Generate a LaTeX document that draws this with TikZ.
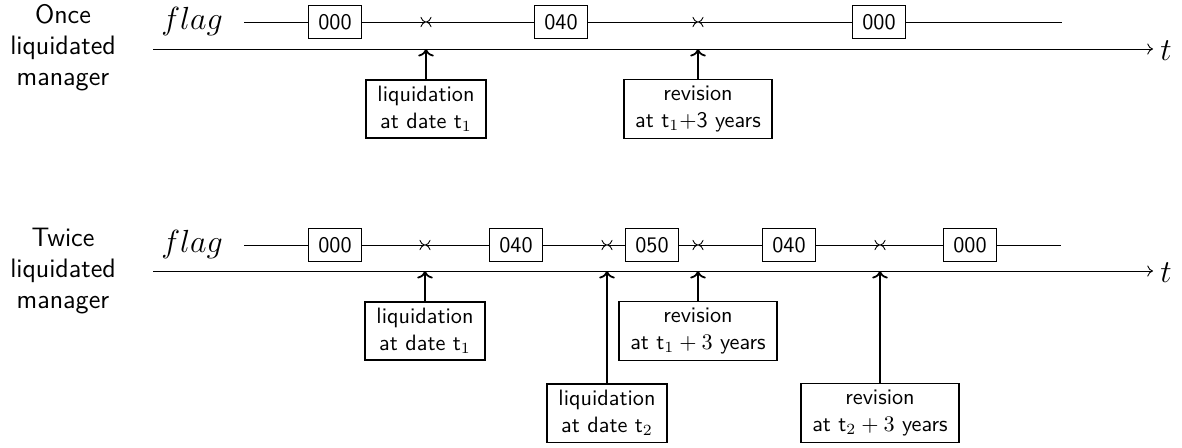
\documentclass[tikz,border=0pt]{standalone}
\usetikzlibrary{arrows.meta}
\begin{document}
\tikzset{
  numbox/.style={draw, font=\sffamily, minimum width=24pt, minimum height=15pt, inner sep=2pt},
  evbox/.style={draw, thick, font=\sffamily, align=center, inner xsep=5pt, inner ysep=3pt},
  evarrow/.style={thick, ->},
  tomark/.style={-{To[length=2.5pt,width=4.6pt]}},
  frommark/.style={{To[length=2.5pt,width=4.6pt]}-},
  axisline/.style={-{To[length=2.6pt,width=5pt]}},
  lbl/.style={font=\sffamily\large, align=center},
}
\begin{tikzpicture}[x=0.45pt,y=-0.45pt]
\useasboundingbox (0,0) rectangle (1182,447);
% ---------- row 1 ----------
\node[lbl] (L1) at (63,48) {Once\\liquidated\\manager};
\node (F1) at (192,21) {\Large $flag$};
\coordinate (s1) at (244,22);
\node[numbox] (a1) at (335,22) {000};
\coordinate (m11) at (426,22);
\node[numbox] (a2) at (561,22) {040};
\coordinate (m12) at (698,22);
\node[numbox] (a3) at (879,22) {000};
\coordinate (e1) at (1062,22);
\draw (s1) -- (a1);
\draw[tomark] (a1) -- (m11);
\draw[frommark] (m11) -- (a2);
\draw[tomark] (a2) -- (m12);
\draw[frommark] (m12) -- (a3);
\draw (a3) -- (e1);
\coordinate (ax1s) at (153,49);
\coordinate (ax1e) at (1153,49);
\node (T1) at (1166,51) {\Large $t$};
\draw[axisline] (ax1s) -- (ax1e);
\coordinate (p11) at (426,49);
\coordinate (p12) at (698,49);
\node[evbox] (b11) at (426,109) {liquidation\\at date t$_1$};
\node[evbox] (b12) at (698,109) {revision\\at t$_1$+3 years};
\draw[evarrow] (b11) -- (p11);
\draw[evarrow] (b12) -- (p12);
% ---------- row 2 ----------
\node[lbl] (L2) at (63,271) {Twice\\liquidated\\manager};
\node (F2) at (192,244) {\Large $flag$};
\coordinate (s2) at (244,245);
\node[numbox] (c1) at (335,245) {000};
\coordinate (m21) at (425,245);
\node[numbox] (c2) at (516,245) {040};
\coordinate (m22) at (607,245);
\node[numbox] (c3) at (652,245) {050};
\coordinate (m23) at (698,245);
\node[numbox] (c4) at (789,245) {040};
\coordinate (m24) at (880,245);
\node[numbox] (c5) at (970,245) {000};
\coordinate (e2) at (1061,245);
\draw (s2) -- (c1);
\draw[tomark] (c1) -- (m21);
\draw[frommark] (m21) -- (c2);
\draw[tomark] (c2) -- (m22);
\draw[frommark] (m22) -- (c3);
\draw[tomark] (c3) -- (m23);
\draw[frommark] (m23) -- (c4);
\draw[tomark] (c4) -- (m24);
\draw[frommark] (m24) -- (c5);
\draw (c5) -- (e2);
\coordinate (ax2s) at (153,271);
\coordinate (ax2e) at (1153,271);
\node (T2) at (1166,273) {\Large $t$};
\draw[axisline] (ax2s) -- (ax2e);
\coordinate (p21) at (425,271);
\coordinate (p22) at (607,271);
\coordinate (p23) at (698,271);
\coordinate (p24) at (880,271);
\node[evbox] (d1) at (425,331) {liquidation\\at date t$_1$};
\node[evbox] (d3) at (698,331) {revision\\at t$_1 + 3$ years};
\node[evbox] (d2) at (607,413) {liquidation\\at date t$_2$};
\node[evbox] (d4) at (880,413) {revision\\at t$_2 + 3$ years};
\draw[evarrow] (d1) -- (p21);
\draw[evarrow] (d2) -- (p22);
\draw[evarrow] (d3) -- (p23);
\draw[evarrow] (d4) -- (p24);
\end{tikzpicture}
\end{document}
